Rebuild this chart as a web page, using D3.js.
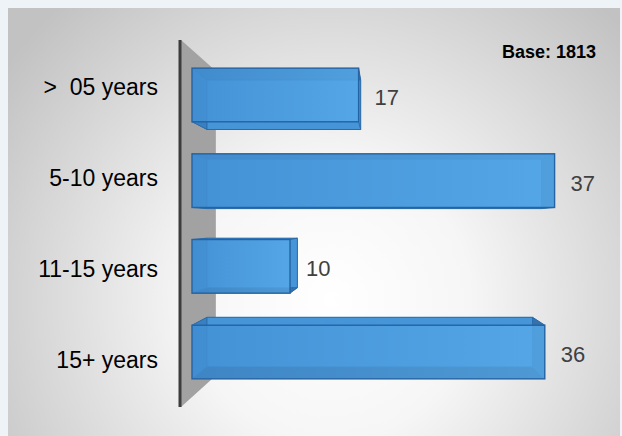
<!DOCTYPE html>
<html>
<head>
<meta charset="utf-8">
<script src="https://cdn.jsdelivr.net/npm/d3@7"></script>
<style>
  html, body { margin: 0; padding: 0; background: #eef3f7; }
  svg { display: block; }
  text { font-family: Arial, "Liberation Sans", sans-serif; white-space: pre; }
</style>
</head>
<body>
<svg id="chart" width="622" height="436"></svg>
<script>
// ---- data ----
const categories = [">  05 years", "5-10 years", "11-15 years", "15+ years"];
const values = [17, 37, 10, 36];
const baseLabel = "Base: 1813";

// ---- setup ----
const W = 622, H = 436;
const svg = d3.select("#chart");
const defs = svg.append("defs");

const bg = defs.append("radialGradient").attr("id", "bg")
  .attr("gradientUnits", "userSpaceOnUse")
  .attr("cx", 330).attr("cy", 300).attr("r", 400);
bg.append("stop").attr("offset", 0).attr("stop-color", "#ffffff");
bg.append("stop").attr("offset", 0.35).attr("stop-color", "#f6f6f6");
bg.append("stop").attr("offset", 1).attr("stop-color", "#c2c2c2");

const fg = defs.append("linearGradient").attr("id", "front")
  .attr("x1", 0).attr("x2", 1).attr("y1", 0).attr("y2", 0);
fg.append("stop").attr("offset", 0).attr("stop-color", "#4391d5");
fg.append("stop").attr("offset", 1).attr("stop-color", "#58abea");

// panel
svg.append("rect").attr("x", 8).attr("y", 7).attr("width", 612).attr("height", H - 7)
  .attr("fill", "url(#bg)");
svg.append("line").attr("x1", 8).attr("x2", 620).attr("y1", 7.5).attr("y2", 7.5)
  .attr("stroke", "#f2f2f2").attr("stroke-width", 1);

// scales
const x = d3.scaleLinear().domain([0, 40]).range([192, 584]);
const y = d3.scaleBand().domain(categories).range([51, 396])
  .paddingInner(0.374).paddingOuter(0.2);
const yLab = d3.scaleBand().domain(categories).range([41.5, 405.5]).padding(0);

// perspective helper
const VP = [386, 222], S = 0.923;
const proj = (p, s = S) => [VP[0] + s * (p[0] - VP[0]), VP[1] + s * (p[1] - VP[1])];

// wall
const wallTop = [181, 40], wallBot = [181, 407], WS = 0.83;
svg.append("polygon")
  .attr("points", [wallTop, proj(wallTop, WS), proj(wallBot, WS), wallBot].map(p => p.join(",")).join(" "))
  .attr("fill", "#a2a2a2");
svg.append("line").attr("x1", 180).attr("x2", 180).attr("y1", wallTop[1]).attr("y2", wallBot[1])
  .attr("stroke", "#3c3c3c").attr("stroke-width", 3);

// bars
const data = categories.map((c, i) => ({ c, v: values[i] }));
const pts = a => a.map(p => p.join(",")).join(" ");
const g = svg.append("g");
data.forEach(d => {
  const x0 = x(0), x1 = x(d.v), y0 = y(d.c), y1 = y(d.c) + y.bandwidth();
  const F = { tl: [x0, y0], tr: [x1, y0], br: [x1, y1], bl: [x0, y1] };
  const B = { tl: proj(F.tl), tr: proj(F.tr), br: proj(F.br), bl: proj(F.bl) };
  const bg2 = g.append("g");
  // side faces
  bg2.append("polygon").attr("points", pts([F.tl, F.tr, B.tr, B.tl])).attr("fill", "#3674ae");
  bg2.append("polygon").attr("points", pts([F.bl, F.br, B.br, B.bl])).attr("fill", "#2b5b88");
  bg2.append("polygon").attr("points", pts([F.tl, F.bl, B.bl, B.tl])).attr("fill", "#3880c2");
  bg2.append("polygon").attr("points", pts([F.tr, F.br, B.br, B.tr])).attr("fill", "#3472ab");
  // back face
  bg2.append("polygon").attr("points", pts([B.tl, B.tr, B.br, B.bl]))
    .attr("fill", "#4595d8").attr("stroke", "#2c6ba8").attr("stroke-width", 1);
  // diagonal edges
  ["tl", "tr", "br", "bl"].forEach(k => {
    bg2.append("line").attr("x1", F[k][0]).attr("y1", F[k][1]).attr("x2", B[k][0]).attr("y2", B[k][1])
      .attr("stroke", "#2c6ba8").attr("stroke-width", 1);
  });
  // front face
  bg2.append("rect").attr("x", x0).attr("y", y0).attr("width", x1 - x0).attr("height", y1 - y0)
    .attr("fill", "url(#front)").attr("fill-opacity", 0.78)
    .attr("stroke", "#2563a2").attr("stroke-width", 1.4);
  // value label
  g.append("text").attr("x", x1 + 16).attr("y", y0 + y.bandwidth() / 2)
    .attr("dy", "0.45em").attr("font-size", 22).attr("fill", "#404040").text(d.v);
});

// category labels
svg.append("g").selectAll("text").data(categories).join("text")
  .attr("x", 158).attr("y", c => yLab(c) + yLab.bandwidth() / 2)
  .attr("dy", "0.36em").attr("text-anchor", "end")
  .attr("font-size", 23).attr("fill", "#000").text(c => c);

// base label
svg.append("text").attr("x", 596).attr("y", 58).attr("text-anchor", "end")
  .attr("font-size", 18).attr("font-weight", "bold").attr("fill", "#000").text(baseLabel);
</script>
</body>
</html>
